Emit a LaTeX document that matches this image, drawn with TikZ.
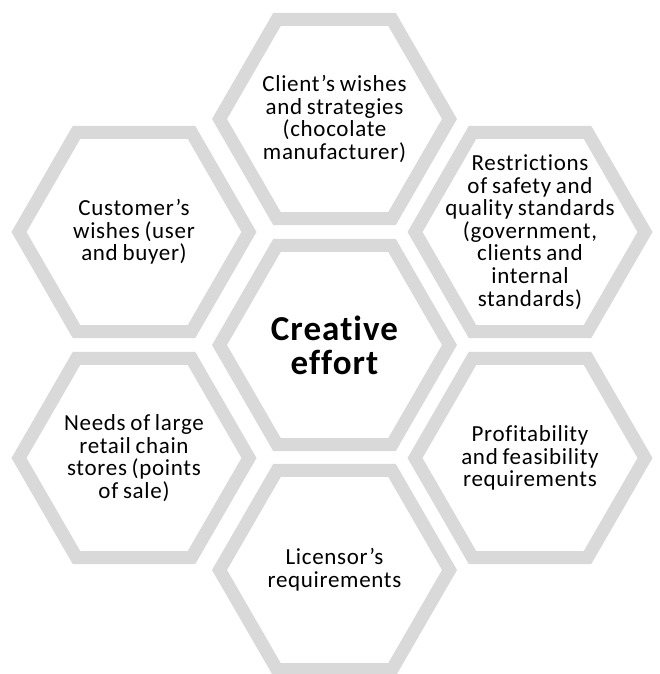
\documentclass[tikz,border=0pt]{standalone}
\usepackage{fontspec}
\setmainfont[Ligatures=NoCommon]{Carlito}
\newfontfamily\cellfont[LetterSpace=3,WordSpace=0.8,Ligatures=NoCommon]{Carlito}
\usetikzlibrary{shapes.geometric}

\definecolor{cellgray}{RGB}{217,217,217}

\begin{document}
\begin{tikzpicture}[
    x=1pt, y=-1pt,
    cell/.style={regular polygon, regular polygon sides=6, draw=cellgray,
        line width=13pt, fill=white, minimum size=230pt, inner sep=0pt},
    celltext/.style={align=center, font=\cellfont\fontsize{23}{22.6}\selectfont},
    maintext/.style={align=center, font=\cellfont\fontsize{35}{34}\selectfont\bfseries}
]
    \useasboundingbox (0,0) rectangle (659,674);
    \node[cell] (effort) at (334.5,345) {};
    \node[cell] (client) at (334.5,119) {};
    \node[cell] (licensor) at (334.5,570) {};
    \node[cell] (customer) at (134,232) {};
    \node[cell] (retail) at (134,458) {};
    \node[cell] (safety) at (530,232) {};
    \node[cell] (profit) at (530,458) {};
    \node[maintext] at (effort) {Creative\\effort};
    \node[celltext] at (client) {Client’s wishes\\and strategies\\(chocolate\\manufacturer)};
    \node[celltext] at (licensor) {Licensor’s\\requirements};
    \node[celltext] at (customer) {Customer’s\\wishes (user\\and buyer)};
    \node[celltext] at (retail) {Needs of large\\retail chain\\stores (points\\of sale)};
    \node[celltext] at (safety) {Restrictions\\of safety and\\quality standards\\(government,\\clients and\\internal\\standards)};
    \node[celltext] at (profit) {Profitability\\and feasibility\\requirements};
\end{tikzpicture}
\end{document}
